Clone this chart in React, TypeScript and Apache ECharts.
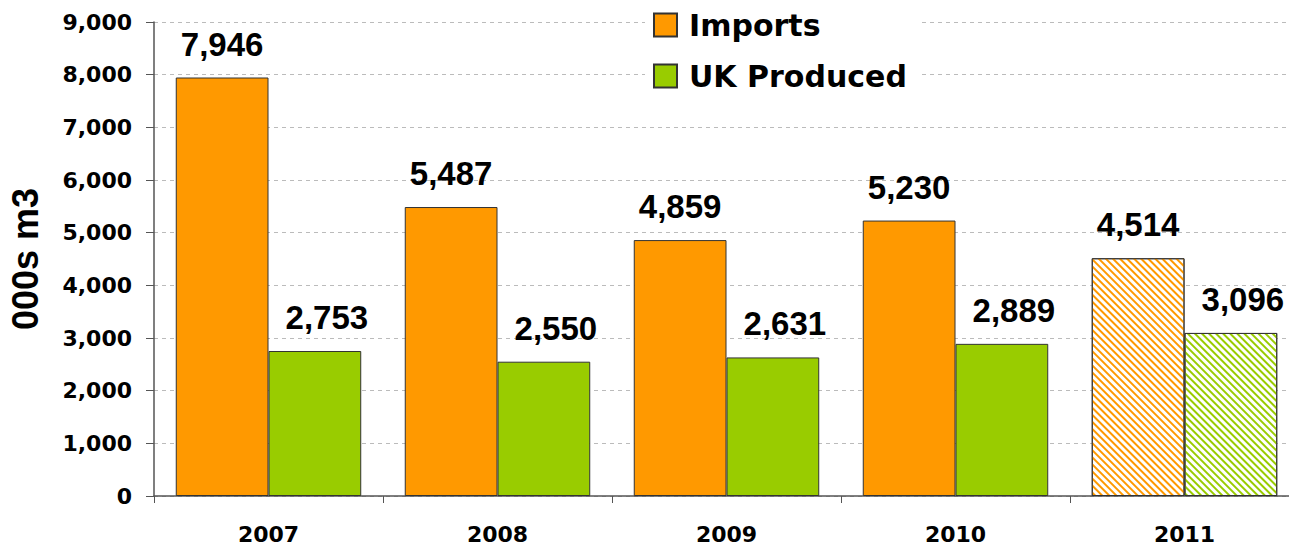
import React, { useEffect, useRef } from "react";
import * as echarts from "echarts";

const categories = ["2007", "2008", "2009", "2010", "2011"];
const importsValues = [7946, 5487, 4859, 5230, 4514];
const ukValues = [2753, 2550, 2631, 2889, 3096];
const hatchedIndex = 4;

const ARIAL = "'Liberation Sans', Arial, sans-serif";
const WIDE = "'DejaVu Sans', Verdana, sans-serif";
const ORANGE = "#FF9900";
const GREEN = "#99CC00";

function makeData(values: number[], color: string) {
  return values.map((v, i) =>
    i === hatchedIndex
      ? {
          value: v,
          itemStyle: {
            color: "#ffffff",
            decal: {
              symbol: "rect",
              symbolSize: 1,
              color: color,
              dashArrayX: [1, 0],
              dashArrayY: [2, 3],
              rotation: Math.PI / 4,
            },
          },
        }
      : v
  );
}

export default function App() {
  const ref = useRef<HTMLDivElement>(null);
  useEffect(() => {
    if (!ref.current) return;
    const chart = echarts.init(ref.current, undefined, { renderer: "svg" });
    const baseLabel = {
      show: true,
      position: "top",
      distance: 17,
      fontFamily: ARIAL,
      fontWeight: "bold",
      fontSize: 33,
      color: "#000",
      formatter: (p: any) => Number(p.value).toLocaleString("en-US"),
    };
    chart.setOption({
      animation: false,
      backgroundColor: "#fff",
      grid: {
        left: 154,
        top: 22,
        bottom: 54,
        right: 11,
        containLabel: false,
        outerBoundsMode: "none",
      },
      legend: {
        orient: "vertical",
        left: 645,
        top: 4,
        padding: [6, 12, 6, 8],
        backgroundColor: "#ffffff",
        itemWidth: 23,
        itemHeight: 23,
        itemGap: 21,
        icon: "rect",
        textStyle: {
          fontFamily: WIDE,
          fontWeight: "bold",
          fontSize: 30,
          color: "#000",
          padding: [0, 0, 0, 7],
        },
        data: ["Imports", "UK Produced"],
      },
      xAxis: {
        type: "category",
        data: categories,
        axisLine: { lineStyle: { color: "#555", width: 1.5 } },
        axisTick: { show: true, length: 7, lineStyle: { color: "#555" } },
        axisLabel: {
          fontFamily: WIDE,
          fontWeight: "bold",
          fontSize: 22,
          color: "#000",
          margin: 27,
        },
      },
      yAxis: {
        type: "value",
        min: 0,
        max: 9000,
        interval: 1000,
        name: "000s m3",
        nameLocation: "middle",
        nameGap: 111,
        nameTextStyle: {
          fontFamily: ARIAL,
          fontWeight: "bold",
          fontSize: 36,
          color: "#000",
        },
        axisLine: { show: true, lineStyle: { color: "#555", width: 1.5 } },
        axisTick: { show: true, length: 8, lineStyle: { color: "#555" } },
        axisLabel: {
          fontFamily: WIDE,
          fontWeight: "bold",
          fontSize: 22,
          color: "#000",
          margin: 22,
          formatter: (v: number) => v.toLocaleString("en-US"),
        },
        splitLine: {
          show: true,
          lineStyle: { color: "#bbbbbb", type: [4, 4], width: 1 },
        },
      },
      series: [
        {
          name: "Imports",
          type: "bar",
          data: makeData(importsValues, ORANGE),
          barGap: "0%",
          barCategoryGap: "19%",
          itemStyle: { color: ORANGE, borderColor: "#333", borderWidth: 1 },
          label: baseLabel,
        },
        {
          name: "UK Produced",
          type: "bar",
          data: makeData(ukValues, GREEN),
          barGap: "0%",
          barCategoryGap: "19%",
          itemStyle: { color: GREEN, borderColor: "#333", borderWidth: 1 },
          label: { ...baseLabel, offset: [12, 0] },
        },
      ],
    });
    return () => chart.dispose();
  }, []);
  return (
    <div
      style={{
        position: "fixed",
        left: 0,
        top: 0,
        width: 1289,
        height: 550,
        overflow: "hidden",
        background: "#fff",
      }}
    >
      <div ref={ref} style={{ width: 1310, height: 550 }} />
    </div>
  );
}
